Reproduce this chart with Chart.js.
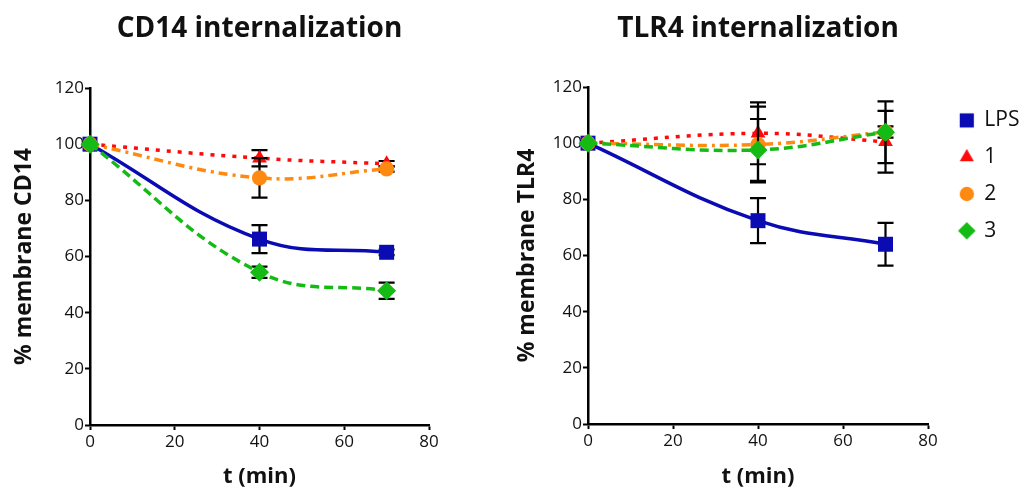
<!DOCTYPE html>
<html>
<head>
<meta charset="utf-8">
<title>CD14 / TLR4 internalization</title>
<script src="https://cdn.jsdelivr.net/npm/chart.js@4/dist/chart.umd.min.js"></script>
<style>
  html, body { margin: 0; padding: 0; background: #fff; overflow: hidden; }
  #wrap { position: relative; width: 1023px; height: 488px; overflow: hidden; }
  canvas { position: absolute; top: 0; }
  #cd14 { left: 0; }
  #tlr4 { left: 500px; }
</style>
</head>
<body>
<div id="wrap">
  <canvas id="cd14" width="500" height="488"></canvas>
  <canvas id="tlr4" width="540" height="488"></canvas>
</div>
<script>
// Sampling times (min)
const times = [0, 40, 70];
const seriesNames = ['LPS', '1', '2', '3'];

// CD14 surface level (% of t = 0) and SEM
const cd14LPS = [100, 66.2, 61.5];
const cd14One = [100, 95, 93];
const cd14Two = [100, 88, 91.2];
const cd14Three = [100, 54.4, 47.8];
const cd14LPSErr = [0, 5, 1];
const cd14OneErr = [0, 2.9, 1];
const cd14TwoErr = [0, 7, 1];
const cd14ThreeErr = [0, 2, 2.9];

// TLR4 surface level (% of t = 0) and SEM
const tlr4LPS = [100, 72.4, 64];
const tlr4One = [100, 103.5, 100.5];
const tlr4Two = [100, 99.5, 104];
const tlr4Three = [100, 97.6, 103.9];
const tlr4LPSErr = [0, 8, 7.6];
const tlr4OneErr = [0, 11, 11];
const tlr4TwoErr = [0, 13.5, 2];
const tlr4ThreeErr = [0, 11, 11];

// Axis ticks
const xTicks = [0, 20, 40, 60, 80];
const yTicks = [0, 20, 40, 60, 80, 100, 120];

const FONT = '"Open Sans", "DejaVu Sans", sans-serif';
Chart.defaults.font.family = FONT;
Chart.defaults.color = '#111';

const styles = [
  { color: '#0b0bb4', pointStyle: 'rect', radius: 10.6, dash: [], legendRadius: 10 },
  { color: '#ff0a0a', pointStyle: 'triangle', radius: 8.5, dash: [4, 7], legendRadius: 8.2 },
  { color: '#ff8a12', pointStyle: 'circle', radius: 7.6, dash: [9, 5, 3, 5], legendRadius: 7.2 },
  { color: '#14bb14', pointStyle: 'rectRot', radius: 9.5, dash: [9, 5], legendRadius: 8.8 }
];

function pts(ys) { return times.map((t, i) => ({ x: t, y: ys[i] })); }

function makeDatasets(values, errors) {
  return values.map((ys, k) => ({
    label: seriesNames[k],
    data: pts(ys),
    errors: errors[k],
    borderColor: styles[k].color,
    backgroundColor: styles[k].color,
    pointBackgroundColor: styles[k].color,
    pointBorderWidth: 0,
    pointStyle: styles[k].pointStyle,
    pointRadius: styles[k].radius,
    borderWidth: 3.5,
    borderDash: styles[k].dash,
    borderCapStyle: 'butt',
    tension: 0.4,
    fill: false,
    clip: false,
    order: 3 - k
  }));
}

// Vertical SEM bars with caps, drawn just before each series' own line and markers
const errorBars = {
  id: 'errorBars',
  beforeDatasetDraw(chart, args) {
    const ds = chart.data.datasets[args.index];
    if (!ds.errors) return;
    const y = chart.scales.y;
    const ctx = chart.ctx;
    ctx.save();
    ctx.strokeStyle = '#000';
    ctx.lineWidth = 2.2;
    ds.data.forEach((p, i) => {
      const e = ds.errors[i];
      if (!e) return;
      const px = args.meta.data[i].x;
      const top = y.getPixelForValue(p.y + e);
      const bot = y.getPixelForValue(p.y - e);
      ctx.beginPath();
      ctx.moveTo(px, top); ctx.lineTo(px, bot);
      ctx.moveTo(px - 8, top); ctx.lineTo(px + 8, top);
      ctx.moveTo(px - 8, bot); ctx.lineTo(px + 8, bot);
      ctx.stroke();
    });
    ctx.restore();
  }
};

function axisBase() {
  return {
    type: 'linear',
    border: { display: true, color: '#000', width: 2.5 },
    grid: { display: true, drawOnChartArea: false, drawTicks: true, tickLength: 5, tickWidth: 2, tickColor: '#000', color: '#000' },
  };
}

function makeChart(id, title, yTitle, values, errors, geom, withLegend) {
  const xAxis = Object.assign(axisBase(), {
    position: 'bottom',
    min: xTicks[0], max: xTicks[xTicks.length - 1],
    afterBuildTicks(s) { s.ticks = xTicks.map(v => ({ value: v })); },
    ticks: { font: { size: 17 }, padding: 2, color: '#111' },
    title: { display: true, text: 't (min)', font: { size: 22, weight: 'bold', lineHeight: 1.0 }, padding: { top: 0, bottom: 0 }, color: '#111' },
    afterFit(s) { s.height = geom.xH; }
  });
  const yAxis = Object.assign(axisBase(), {
    position: 'left',
    min: yTicks[0], max: yTicks[yTicks.length - 1],
    afterBuildTicks(s) { s.ticks = yTicks.map(v => ({ value: v })); },
    ticks: { font: { size: 17 }, padding: 1, color: '#111' },
    title: { display: true, text: yTitle, font: { size: 23, weight: 'bold', lineHeight: 1.2 }, padding: { top: geom.yTitlePad, bottom: 0 }, color: '#111' },
    afterFit(s) { s.width = geom.yW; }
  });
  const scales = { x: xAxis, y: yAxis };
  if (withLegend) {
    // empty band between the plot and the legend
    scales.gap = {
      type: 'linear', position: 'right', display: true,
      grid: { display: false }, ticks: { display: false }, border: { display: false },
      afterFit(s) { s.width = geom.gapW; }
    };
  }

  const legendImages = styles.map(st => {
    const c = document.createElement('canvas');
    c.width = 24; c.height = 24;
    const g = c.getContext('2d');
    g.fillStyle = st.color;
    Chart.helpers.drawPoint(g, { pointStyle: st.pointStyle, radius: st.legendRadius, rotation: 0, borderWidth: 0 }, 12, 12);
    return c;
  });

  return new Chart(document.getElementById(id), {
    type: 'line',
    data: { datasets: makeDatasets(values, errors) },
    plugins: [errorBars],
    options: {
      responsive: false,
      animation: false,
      events: [],
      layout: { padding: { left: 0, right: geom.padR, top: 0, bottom: 0 } },
      scales,
      plugins: {
        title: {
          display: true, text: title, fullSize: false,
          font: { size: 28, weight: 'bold', lineHeight: 1.2 },
          padding: { top: 12, bottom: geom.titleGap }, color: '#111'
        },
        legend: withLegend ? {
          display: true, position: 'right', align: 'start', fullSize: false,
          maxWidth: geom.legendW,
          title: { display: true, text: '', font: { size: 1 }, padding: { top: geom.legendTop, bottom: 0 } },
          labels: {
            usePointStyle: true, boxWidth: 14, boxHeight: 14, padding: 15.8,
            font: { size: 21 }, color: '#111',
            sort: (a, b) => a.datasetIndex - b.datasetIndex,
            generateLabels(chart) {
              const items = Chart.defaults.plugins.legend.labels.generateLabels(chart);
              items.forEach(it => { it.pointStyle = legendImages[it.datasetIndex]; it.lineWidth = 0; });
              return items;
            }
          }
        } : { display: false },
        tooltip: { enabled: false }
      }
    }
  });
}

makeChart('cd14', 'CD14 internalization', '% membrane CD14',
  [cd14LPS, cd14One, cd14Two, cd14Three],
  [cd14LPSErr, cd14OneErr, cd14TwoErr, cd14ThreeErr],
  { xH: 63, yW: 90, yTitlePad: 11, padR: 71, titleGap: 42.4 }, false);

makeChart('tlr4', 'TLR4 internalization', '% membrane TLR4',
  [tlr4LPS, tlr4One, tlr4Two, tlr4Three],
  [tlr4LPSErr, tlr4OneErr, tlr4TwoErr, tlr4ThreeErr],
  { xH: 64, yW: 88, yTitlePad: 14, padR: 16, titleGap: 41.4, gapW: 16, legendW: 80, legendTop: 5.9 }, true);
</script>
</body>
</html>
